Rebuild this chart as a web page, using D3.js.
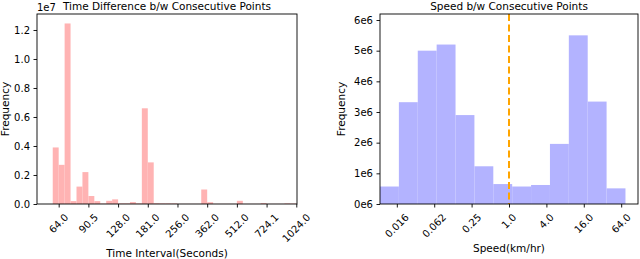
<!DOCTYPE html>
<html>
<head>
<meta charset="utf-8">
<script src="https://cdn.jsdelivr.net/npm/d3@7"></script>
<style>
  html, body { margin: 0; padding: 0; background: #fff; }
  svg { display: block; font-family: "DejaVu Sans", sans-serif; }
</style>
</head>
<body>
<svg id="chart" width="640" height="259"></svg>
<script>
// ---------- Data ----------
// Left: time interval histogram (bins in log2(seconds), width 0.1)
const timeBinStartLog2 = [5.9,6.0,6.1,6.2,6.3,6.4,6.5,6.6,6.7,6.8,6.9,7.0,7.1,7.2,7.3,7.4,7.5,7.6,7.7,7.8,7.9,8.0,8.1,8.2,8.3,8.4,8.5,8.6,8.7,8.8,8.9,9.0,9.1,9.2,9.3,9.4,9.5,9.6,9.7,9.8,9.9];
const timeFreq = [0.39e7,0.27e7,1.245e7,0.02e7,0.12e7,0.22e7,0.055e7,0.02e7,0.003e7,0.022e7,0.032e7,0.004e7,0.004e7,0.013e7,0.004e7,0.66e7,0.287e7,0.005e7,0.004e7,0.004e7,0.004e7,0.001e7,0.001e7,0.001e7,0.001e7,0.1e7,0.012e7,0.001e7,0.001e7,0.001e7,0.001e7,0.022e7,0.001e7,0.001e7,0.001e7,0.006e7,0.001e7,0.001e7,0.001e7,0.004e7,0.003e7];
const timeBinWidthLog2 = 0.1;
const timeTickLog2 = [6,6.5,7,7.5,8,8.5,9,9.5,10];
const timeTickLabels = ["64.0","90.5","128.0","181.0","256.0","362.0","512.0","724.1","1024.0"];
const timeYTicks = [0,0.2e7,0.4e7,0.6e7,0.8e7,1.0e7,1.2e7];
const timeYTickLabels = ["0.0","0.2","0.4","0.6","0.8","1.0","1.2"];

// Right: speed histogram (bin edges in log2(km/hr))
const speedBinEdgesLog2 = [-6.9,-5.89,-4.88,-3.87,-2.86,-1.85,-0.84,0.17,1.18,2.19,3.2,4.21,5.22,6.23];
const speedFreq = [0.57e6,3.32e6,5.0e6,5.2e6,2.9e6,1.23e6,0.65e6,0.57e6,0.62e6,1.96e6,5.5e6,3.34e6,0.51e6];
const speedTickLog2 = [-6,-4,-2,0,2,4,6];
const speedTickLabels = ["0.016","0.062","0.25","1.0","4.0","16.0","64.0"];
const speedYTicks = [0,1e6,2e6,3e6,4e6,5e6,6e6];
const speedYTickLabels = ["0e6","1e6","2e6","3e6","4e6","5e6","6e6"];
const speedThresholdLog2 = 0; // 1.0 km/hr

// ---------- Drawing ----------
const svg = d3.select("#chart");
const TICK_FS = 10, LABEL_FS = 10.5;

function panel(o) {
  const g = svg.append("g");
  const x = d3.scaleLinear().domain(o.xDomain).range([o.left, o.right]);
  const y = d3.scaleLinear().domain(o.yDomain).range([o.bottom, o.top]);

  // bars
  g.selectAll("rect.bar").data(o.bars).join("rect")
    .attr("class", "bar")
    .attr("x", d => x(d.x0))
    .attr("width", d => x(d.x1) - x(d.x0))
    .attr("y", d => y(d.v))
    .attr("height", d => y(0) - y(d.v))
    .attr("fill", o.color);

  if (o.vline !== undefined) {
    g.append("line")
      .attr("x1", x(o.vline)).attr("x2", x(o.vline))
      .attr("y1", o.top).attr("y2", o.bottom)
      .attr("stroke", "#ffa500").attr("stroke-width", 2)
      .attr("stroke-dasharray", "7,3.5");
  }

  // x axis (ticks only, labels custom rotated)
  const xAxis = d3.axisBottom(x).tickValues(o.xTicks).tickSize(3.5).tickFormat("");
  const gx = g.append("g").attr("transform", `translate(0,${o.bottom})`).call(xAxis);
  gx.select(".domain").remove();
  gx.selectAll(".tick line").attr("stroke", "#000").attr("stroke-width", 0.9);

  const y0 = o.bottom + 7.5;
  o.xTicks.forEach((t, i) => {
    const txt = g.append("text")
      .attr("font-size", TICK_FS)
      .attr("text-anchor", "middle")
      .attr("dominant-baseline", "central")
      .attr("fill", "#000")
      .text(o.xTickLabels[i]);
    const w = txt.node().getComputedTextLength();
    const h = TICK_FS * 1.15;
    const cx = x(t), cy = y0 + (w + h) / (2 * Math.SQRT2);
    txt.attr("x", cx).attr("y", cy).attr("transform", `rotate(-45,${cx},${cy})`);
  });

  // y axis
  const yAxis = d3.axisLeft(y).tickValues(o.yTicks).tickSize(3.5).tickPadding(3.5)
    .tickFormat((d, i) => o.yTickLabels[i]);
  const gy = g.append("g").attr("transform", `translate(${o.left},0)`).call(yAxis);
  gy.select(".domain").remove();
  gy.selectAll(".tick line").attr("stroke", "#000").attr("stroke-width", 0.9);
  gy.selectAll(".tick text").attr("font-size", TICK_FS).attr("font-family", "DejaVu Sans").attr("fill", "#000");

  // frame
  g.append("rect")
    .attr("x", o.left).attr("y", o.top)
    .attr("width", o.right - o.left).attr("height", o.bottom - o.top)
    .attr("fill", "none").attr("stroke", "#000").attr("stroke-width", 0.9);

  // title
  g.append("text").attr("x", (o.left + o.right) / 2).attr("y", 9.5)
    .attr("text-anchor", "middle").attr("font-size", LABEL_FS).text(o.title);
  // x label
  g.append("text").attr("x", (o.left + o.right) / 2).attr("y", o.xLabelY)
    .attr("text-anchor", "middle").attr("font-size", LABEL_FS).text(o.xLabel);
  // y label
  const ly = (o.top + o.bottom) / 2;
  g.append("text").attr("x", o.yLabelX).attr("y", ly)
    .attr("text-anchor", "middle").attr("font-size", LABEL_FS)
    .attr("transform", `rotate(-90,${o.yLabelX},${ly})`).text("Frequency");

  if (o.offsetText) {
    g.append("text").attr("x", o.left).attr("y", 11)
      .attr("font-size", TICK_FS).text(o.offsetText);
  }
}

panel({
  left: 37, right: 297, top: 14, bottom: 204,
  xDomain: [5.635, 10.012], yDomain: [0, 1.3103e7],
  bars: timeBinStartLog2.map((s, i) => ({ x0: s, x1: s + timeBinWidthLog2, v: timeFreq[i] })),
  color: "#ffb3b3",
  xTicks: timeTickLog2, xTickLabels: timeTickLabels,
  yTicks: timeYTicks, yTickLabels: timeYTickLabels,
  title: "Time Difference b/w Consecutive Points",
  xLabel: "Time Interval(Seconds)", xLabelY: 257,
  yLabelX: 9, offsetText: "1e7"
});

panel({
  left: 380, right: 638, top: 14, bottom: 204,
  xDomain: [-6.9, 6.9], yDomain: [0, 6.196e6],
  bars: speedFreq.map((v, i) => ({ x0: speedBinEdgesLog2[i], x1: speedBinEdgesLog2[i + 1], v })),
  color: "#b3b3ff",
  vline: speedThresholdLog2,
  xTicks: speedTickLog2, xTickLabels: speedTickLabels,
  yTicks: speedYTicks, yTickLabels: speedYTickLabels,
  title: "Speed b/w Consecutive Points",
  xLabel: "Speed(km/hr)", xLabelY: 252,
  yLabelX: 345
});
</script>
</body>
</html>
